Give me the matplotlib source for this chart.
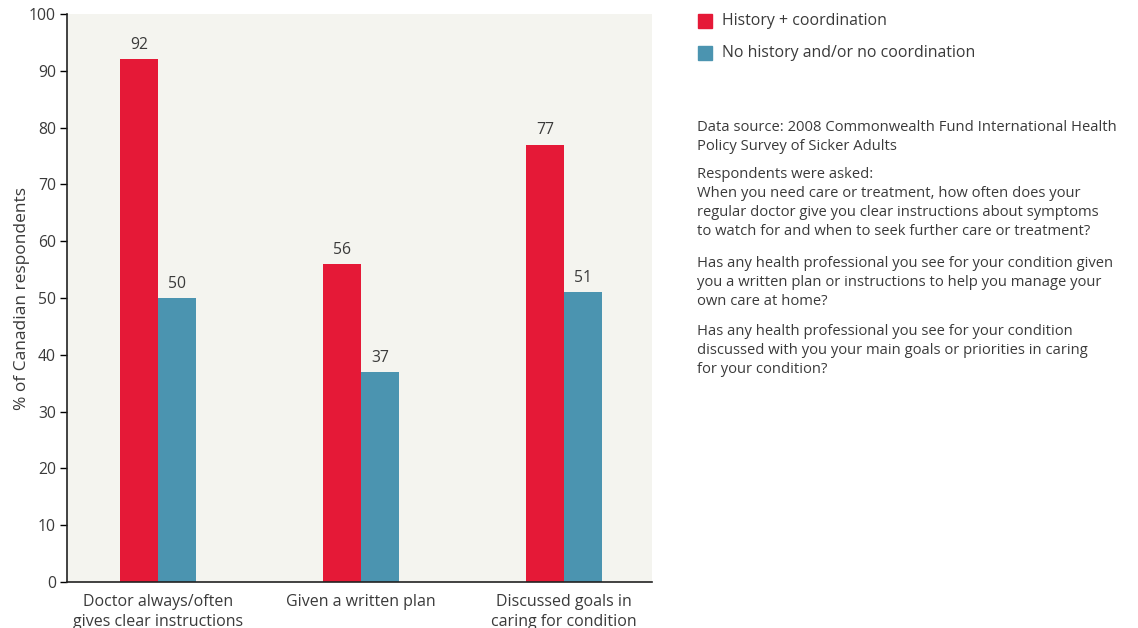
import matplotlib
matplotlib.use("Agg")
import matplotlib.pyplot as plt
import numpy as np

categories = ["Doctor always/often\ngives clear instructions",
              "Given a written plan",
              "Discussed goals in\ncaring for condition"]
series_names = ["History + coordination", "No history and/or no coordination"]
history_coord = [92, 56, 77]
no_history = [50, 37, 51]
y_ticks = [0, 10, 20, 30, 40, 50, 60, 70, 80, 90, 100]

RED = "#E51937"
BLUE = "#4B94B0"
TEXT = "#3a3a3a"

plt.rcParams["font.family"] = ["Open Sans", "DejaVu Sans"]

W, H = 1138, 628
fig = plt.figure(figsize=(W / 100, H / 100), dpi=100)
ax = fig.add_axes([67 / W, 1 - 582 / H, 585 / W, 568 / H])
ax.set_facecolor("#F4F4EF")

x = np.arange(len(categories))
bw = 0.187
b1 = ax.bar(x - bw / 2, history_coord, bw, color=RED)
b2 = ax.bar(x + bw / 2, no_history, bw, color=BLUE)

for bars, vals in ((b1, history_coord), (b2, no_history)):
    for rect, v in zip(bars, vals):
        ax.text(rect.get_x() + rect.get_width() / 2, v + 1.1, f"{v}",
                ha="center", va="bottom", fontsize=11.3, color=TEXT)

ax.set_xlim(-0.45, 2.435)
ax.set_ylim(0, 100)
ax.set_yticks(y_ticks)
ax.set_xticks(x)
ax.set_xticklabels(categories, fontsize=11.5, color=TEXT, linespacing=1.25)
ax.tick_params(axis="x", length=0, pad=9)
ax.tick_params(axis="y", direction="out", length=5, width=1, labelsize=11.3,
               labelcolor=TEXT, pad=3)
for s in ("top", "right"):
    ax.spines[s].set_visible(False)
for s in ("left", "bottom"):
    ax.spines[s].set_linewidth(1.2)
    ax.spines[s].set_color("#222222")
ax.set_ylabel("% of Canadian respondents", fontsize=12.5, color=TEXT, labelpad=-1)

# Legend drawn as squares and labels to the right of the plot
for yy, col, name in ((21, RED, series_names[0]), (53, BLUE, series_names[1])):
    fig.patches.append(plt.Rectangle((698 / W, 1 - (yy + 7) / H), 14 / W, 14 / H,
                                     transform=fig.transFigure, color=col))
    fig.text(722 / W, 1 - yy / H, name, fontsize=11.4, color=TEXT, va="center")

notes = [
    (125, "Data source: 2008 Commonwealth Fund International Health\nPolicy Survey of Sicker Adults"),
    (172, "Respondents were asked:\nWhen you need care or treatment, how often does your\n"
          "regular doctor give you clear instructions about symptoms\n"
          "to watch for and when to seek further care or treatment?"),
    (261, "Has any health professional you see for your condition given\n"
          "you a written plan or instructions to help you manage your\nown care at home?"),
    (329, "Has any health professional you see for your condition\n"
          "discussed with you your main goals or priorities in caring\nfor your condition?"),
]
for yy, txt in notes:
    fig.text(697 / W, 1 - (yy - 5) / H, txt, fontsize=10.6, color=TEXT,
             va="top", linespacing=1.37)

fig.savefig("out.png", dpi=100)
